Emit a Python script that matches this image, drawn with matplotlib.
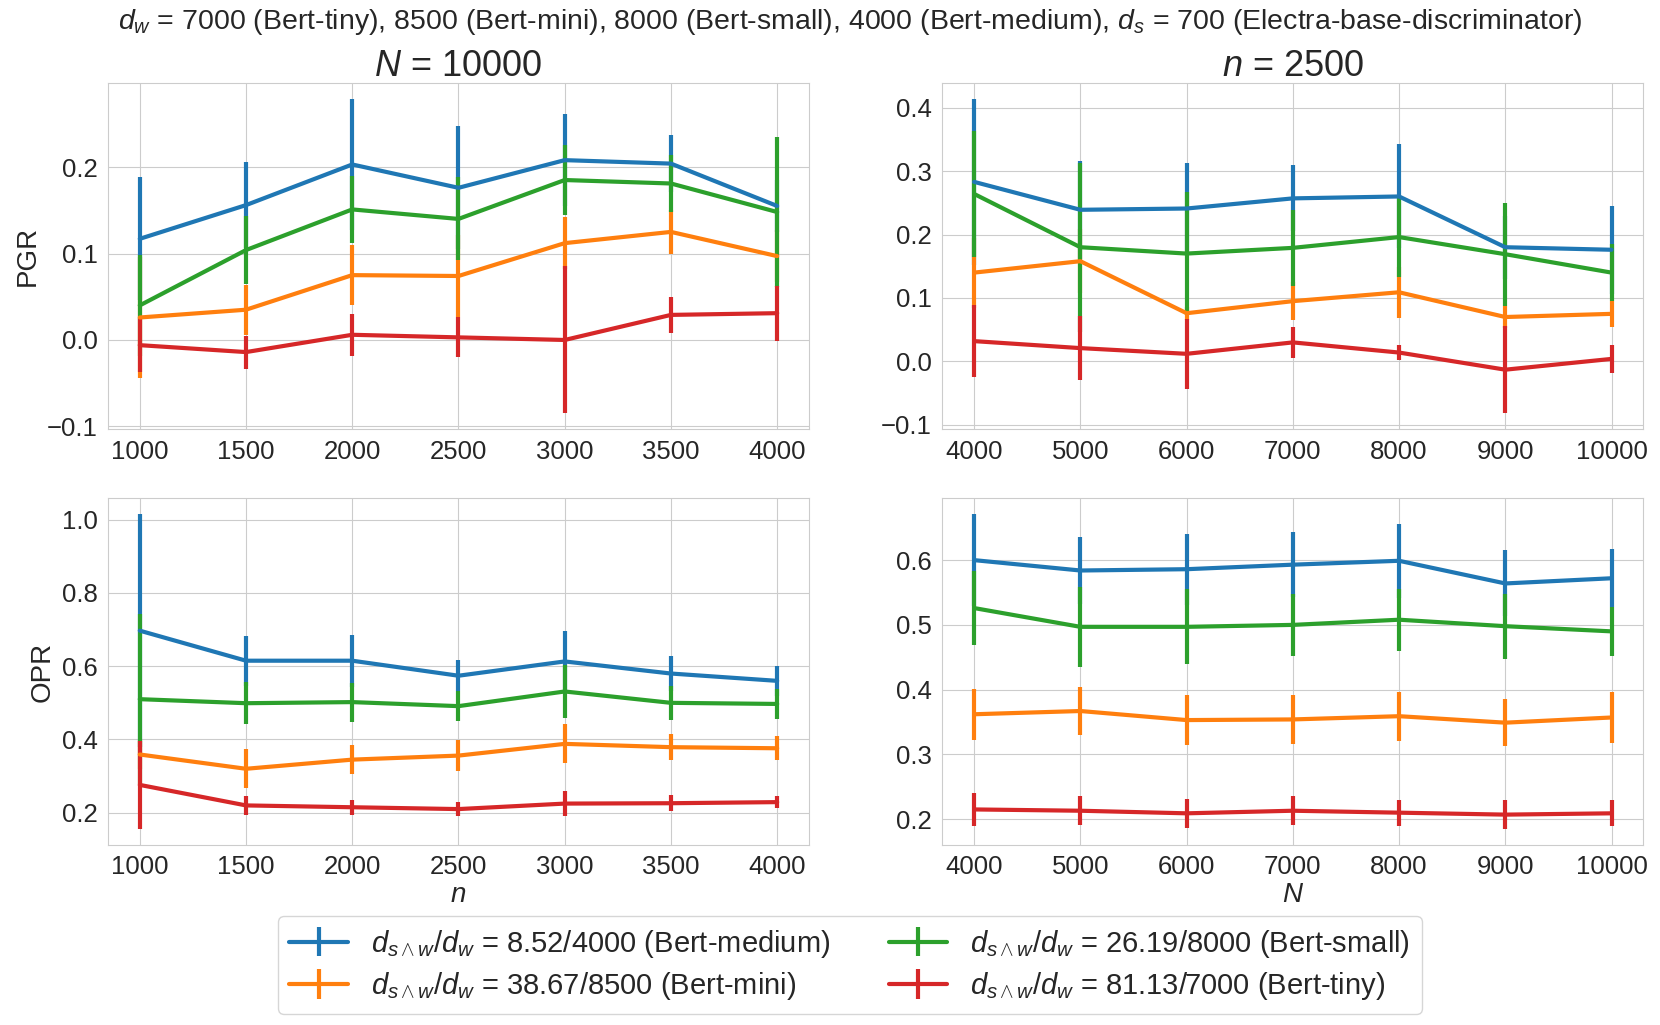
import numpy as np
import matplotlib
matplotlib.use('Agg')
import matplotlib.pyplot as plt
import seaborn as sns

sns.set_style('whitegrid')
plt.rcParams['font.family'] = ['Liberation Sans', 'DejaVu Sans']
plt.rcParams['mathtext.fontset'] = 'custom'
plt.rcParams['mathtext.rm'] = 'Liberation Sans'
plt.rcParams['mathtext.it'] = 'Liberation Sans:italic'

#---------------------- DATA
n_vals = [1000, 1500, 2000, 2500, 3000, 3500, 4000]
N_vals = [4000, 5000, 6000, 7000, 8000, 9000, 10000]

labels = [r"$d_{s\wedge w}/d_w$ = 8.52/4000 (Bert-medium)",
          r"$d_{s\wedge w}/d_w$ = 38.67/8500 (Bert-mini)",
          r"$d_{s\wedge w}/d_w$ = 26.19/8000 (Bert-small)",
          r"$d_{s\wedge w}/d_w$ = 81.13/7000 (Bert-tiny)"]
colors = ['#1f77b4', '#ff7f0e', '#2ca02c', '#d62728']

# PGR vs n (N=10000): medium, mini, small, tiny
pgr_n_mean = [[0.117, 0.156, 0.203, 0.176, 0.208, 0.204, 0.155],
              [0.026, 0.035, 0.075, 0.074, 0.112, 0.125, 0.097],
              [0.040, 0.104, 0.151, 0.140, 0.185, 0.181, 0.148],
              [-0.006, -0.014, 0.006, 0.003, 0.000, 0.029, 0.031]]
pgr_n_err = [[0.071, 0.050, 0.076, 0.071, 0.053, 0.033, 0.030],
             [0.070, 0.029, 0.035, 0.047, 0.030, 0.025, 0.030],
             [0.058, 0.039, 0.039, 0.048, 0.040, 0.033, 0.087],
             [0.031, 0.019, 0.024, 0.023, 0.085, 0.021, 0.032]]

# PGR vs N (n=2500)
pgr_N_mean = [[0.283, 0.239, 0.241, 0.257, 0.260, 0.180, 0.176],
              [0.140, 0.158, 0.076, 0.095, 0.109, 0.070, 0.075],
              [0.264, 0.180, 0.170, 0.179, 0.196, 0.169, 0.140],
              [0.032, 0.021, 0.012, 0.030, 0.014, -0.013, 0.004]]
pgr_N_err = [[0.131, 0.077, 0.072, 0.052, 0.082, 0.050, 0.069],
             [0.055, 0.050, 0.010, 0.030, 0.040, 0.017, 0.020],
             [0.099, 0.133, 0.097, 0.060, 0.063, 0.081, 0.045],
             [0.057, 0.050, 0.055, 0.024, 0.012, 0.069, 0.022]]

# OPR vs n (N=10000)
opr_n_mean = [[0.697, 0.615, 0.615, 0.574, 0.613, 0.580, 0.560],
              [0.359, 0.320, 0.345, 0.356, 0.388, 0.379, 0.376],
              [0.510, 0.499, 0.502, 0.491, 0.531, 0.500, 0.497],
              [0.276, 0.220, 0.215, 0.210, 0.225, 0.226, 0.229]]
opr_n_err = [[0.318, 0.068, 0.071, 0.043, 0.082, 0.049, 0.040],
             [0.040, 0.053, 0.040, 0.042, 0.053, 0.036, 0.033],
             [0.232, 0.058, 0.053, 0.040, 0.073, 0.046, 0.040],
             [0.120, 0.025, 0.020, 0.018, 0.035, 0.022, 0.017]]

# OPR vs N (n=2500)
opr_N_mean = [[0.600, 0.584, 0.586, 0.593, 0.599, 0.564, 0.572],
              [0.362, 0.367, 0.353, 0.354, 0.359, 0.349, 0.357],
              [0.526, 0.497, 0.497, 0.500, 0.508, 0.498, 0.490],
              [0.215, 0.213, 0.209, 0.213, 0.210, 0.207, 0.209]]
opr_N_err = [[0.071, 0.052, 0.055, 0.050, 0.057, 0.051, 0.045],
             [0.039, 0.037, 0.038, 0.038, 0.038, 0.036, 0.040],
             [0.057, 0.062, 0.058, 0.048, 0.048, 0.050, 0.038],
             [0.025, 0.022, 0.022, 0.022, 0.020, 0.022, 0.020]]

#------------------------PLOTTING
fig, axs = plt.subplots(2, 2, figsize=(16.6, 10.25), dpi=100)
fig.subplots_adjust(left=0.065, right=0.99, top=0.919, bottom=0.176, hspace=0.2, wspace=0.19)

panels = [(axs[0, 0], n_vals, pgr_n_mean, pgr_n_err),
          (axs[0, 1], N_vals, pgr_N_mean, pgr_N_err),
          (axs[1, 0], n_vals, opr_n_mean, opr_n_err),
          (axs[1, 1], N_vals, opr_N_mean, opr_N_err)]

for ax, xv, mean, err in panels:
    for i in range(4):
        ax.errorbar(xv, mean[i], yerr=err[i], color=colors[i], lw=3, elinewidth=3,
                    label=labels[i])
    ax.set_xticks(xv)
    ax.tick_params(labelsize=18.5, pad=4)

axs[0, 0].set_ylabel('PGR', fontsize=20)
axs[1, 0].set_ylabel('OPR', fontsize=20)
axs[1, 0].set_xlabel('$n$', fontsize=20, labelpad=2)
axs[1, 1].set_xlabel('$N$', fontsize=20, labelpad=2)
axs[0, 0].set_title('$N$ = 10000', fontsize=26, pad=5)
axs[0, 1].set_title('$n$ = 2500', fontsize=26, pad=5)

fig.suptitle(r"$d_w$ = 7000 (Bert-tiny), 8500 (Bert-mini), 8000 (Bert-small), 4000 (Bert-medium), $d_s$ = 700 (Electra-base-discriminator)",
             fontsize=20.5, x=0.512, y=0.993)

h, l = axs[0, 0].get_legend_handles_labels()
fig.legend(h, l, loc='lower center', bbox_to_anchor=(0.512, 0.008), ncol=2, fontsize=21,
           frameon=True, handlelength=2, columnspacing=2.0, labelspacing=0.35,
           borderaxespad=0.1)

plt.savefig('out.png', dpi=100)
